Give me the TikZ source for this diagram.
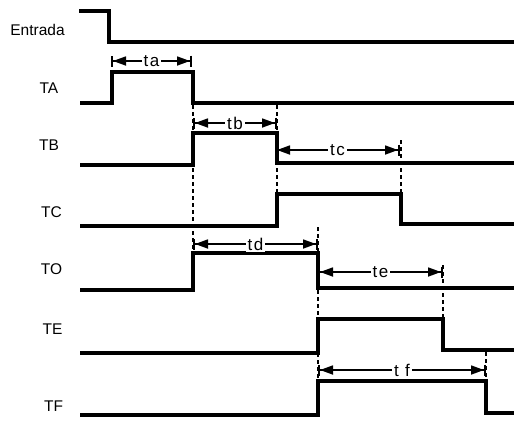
\documentclass[tikz,border=0pt]{standalone}
\usepackage{fontspec}
\setmainfont{Liberation Sans}
\newfontfamily\spanfont[LetterSpace=8]{Liberation Sans}
\usetikzlibrary{arrows.meta,positioning}

\begin{document}
\begin{tikzpicture}[x=1pt, y=-1pt,
    signal/.style={line width=3.6pt, line cap=butt, line join=miter},
    guide/.style={line width=1.5pt, dash pattern=on 4pt off 3pt},
    span/.style={line width=1.7pt,
      {Bar[width=11pt,line width=2pt]Triangle[length=13pt,width=9pt]}-{Triangle[length=13pt,width=9pt]Bar[width=11pt,line width=2pt]}},
    tlabel/.style={fill=white, inner sep=2pt, font=\spanfont\fontsize{17}{17}\selectfont},
    siglabel/.style={font=\fontsize{15.5}{15.5}\selectfont}]
  \useasboundingbox (0,0) rectangle (514,429);

  % time marks for the spans
  \coordinate (ta0) at (111,61);  \coordinate (ta1) at (192,61);
  \coordinate (tb0) at (193,123); \coordinate (tb1) at (277,123);
  \coordinate (tc0) at (275,150); \coordinate (tc1) at (400,150);
  \coordinate (td0) at (193,244); \coordinate (td1) at (318,244);
  \coordinate (te0) at (318,272); \coordinate (te1) at (443,272);
  \coordinate (tf0) at (318,370); \coordinate (tf1) at (486,370);

  % signal names
  \node[siglabel] (entrada) at (37.5,30) {Entrada};
  \node[siglabel] (ta) at (49,88) {TA};
  \node[siglabel] (tb) at (49,145) {TB};
  \node[siglabel] (tc) at (51.5,212) {TC};
  \node[siglabel] (to) at (51.5,269) {TO};
  \node[siglabel] (te) at (52.5,329) {TE};
  \node[siglabel] (tf) at (53.5,406) {TF};

  % waveforms
  \draw[signal] (79,11) -| (109,42) -- (514,42);
  \draw[signal] (80,103) -| (112,72) -| (193,103) -- (514,103);
  \draw[signal] (80,165) -| (193,133) -| (277,163) -- (514,163);
  \draw[signal] (80,226) -| (277,194) -| (401,224) -- (514,224);
  \draw[signal] (80,290) -| (193,253) -| (318,288) -- (514,288);
  \draw[signal] (80,353) -| (318,319) -| (443,350) -- (514,350);
  \draw[signal] (80,415) -| (318,381) -| (486,413) -- (514,413);

  % dashed guides
  \draw[guide] (193,105) -- (193,253);
  \draw[guide] (277,105) -- (277,194);
  \draw[guide] (401,140) -- (401,194);
  \draw[guide] (318,227) -- (318,381);
  \draw[guide] (443,265) -- (443,319);
  \draw[guide] (486,352) -- (486,381);

  % spans
  \draw[span] (ta0) -- node[tlabel] {ta} (ta1);
  \draw[span] (tb0) -- node[tlabel] {tb} (tb1);
  \draw[span] (tc0) -- node[tlabel] {tc} (tc1);
  \draw[span] (td0) -- node[tlabel] {td} (td1);
  \draw[span] (te0) -- node[tlabel] {te} (te1);
  \draw[span] (tf0) -- node[tlabel] {t f} (tf1);
\end{tikzpicture}
\end{document}
